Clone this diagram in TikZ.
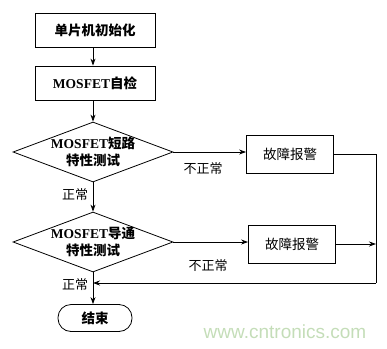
\documentclass[tikz,border=0pt]{standalone}
\usepackage{fontspec}
\setmainfont{Liberation Serif}
\newfontfamily\cjk{Noto Sans CJK SC}
\newfontfamily\wmfont{Liberation Sans}
\usetikzlibrary{arrows.meta,positioning,shapes.geometric,calc}
\definecolor{wm}{HTML}{C4DDB8}
\tikzset{
  txt/.style={font=\fontsize{13.5}{17}\selectfont\bfseries},
  stepbox/.style={rectangle, draw, line width=0.8pt, minimum width=120pt, minimum height=34pt, inner sep=0pt, txt},
  alarm/.style={rectangle, draw, line width=0.8pt, minimum width=87pt, minimum height=38pt, inner sep=0pt, font=\fontsize{13.5}{17}\selectfont},
  test/.style={diamond, draw, line width=0.8pt, minimum width=160pt, minimum height=60pt, inner sep=0pt},
  testtxt/.style={align=center, inner sep=0pt, txt},
  term/.style={rectangle, rounded corners=13pt, draw, line width=0.8pt, minimum width=74pt, minimum height=27pt, inner sep=0pt, txt},
  flow/.style={-{Stealth[length=7pt,width=5pt]}, line width=0.8pt},
  wire/.style={line width=0.8pt},
  lbl/.style={font=\cjk\fontsize{13}{15}\selectfont, inner sep=1pt},
}
\newcommand{\zh}[1]{{\cjk #1}}

\begin{document}
\begin{tikzpicture}[x=1pt, y=-1pt]
  \useasboundingbox (0,0) rectangle (387,348);
  \node[stepbox] (init) at (95,30) {\zh{单片机初始化}};
  \node[stepbox] (self) at (95,83) {MOSFET\zh{自检}};
  \node[test] (short) at (93,152) {};
  \node[testtxt] (shortT) at (short) {MOSFET\zh{短路}\\\zh{特性测试}};
  \node[test] (cond) at (93,242) {};
  \node[testtxt] (condT) at (cond) {MOSFET\zh{导通}\\\zh{特性测试}};
  \node[term] (stop) at (95,318) {\zh{结束}};
  \node[alarm] (alarmA) at (290,154) {\zh{故障报警}};
  \node[alarm] (alarmB) at (292,244) {\zh{故障报警}};
  \coordinate (railT) at (376,154);
  \coordinate (railM) at (376,244);
  \coordinate (railB) at (376,283);
  \coordinate (joinB) at (93,283);
  \draw[flow] (init.south -| 93,0) -- (self.north -| 93,0);
  \draw[flow] (self.south -| 93,0) -- (short.north);
  \draw[flow] (short.east) -- (alarmA.west |- short.east);
  \draw[flow] (short.south) -- (cond.north);
  \draw[flow] (cond.east) -- (alarmB.west |- cond.east);
  \draw[flow] (cond.south) -- (stop.north -| 93,0);
  \draw[wire] (alarmA.east) -- (railT) -- (railB);
  \draw[flow] (railB) -- (joinB);
  \draw[flow] (alarmB.east) -- (railM);
  \node[lbl] (nA) at (203,169) {不正常};
  \node[lbl] (okA) at (75,195) {正常};
  \node[lbl] (nB) at (208,266) {不正常};
  \node[lbl] (okB) at (75,285) {正常};
  \node[font=\wmfont\fontsize{19}{22}\selectfont, text=wm] (mark) at (285,332) {www.cntronics.com};
\end{tikzpicture}
\end{document}
